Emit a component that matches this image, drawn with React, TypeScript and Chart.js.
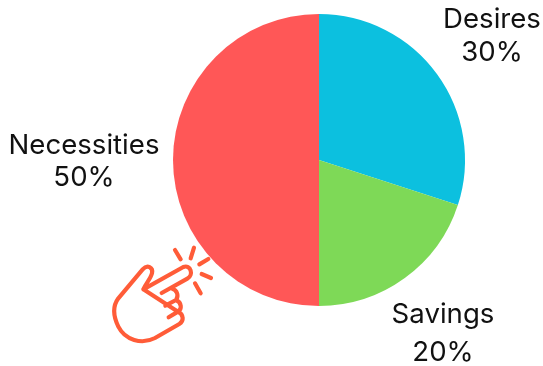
import React, { useEffect, useRef } from "react";
import { Chart, registerables } from "chart.js";

Chart.register(...registerables);

const categories = ["Desires", "Savings", "Necessities"];
const shares = [30, 20, 50];
const sliceColors = ["#0CC0DF", "#7ED957", "#FF5757"];

const WIDTH = 543;
const HEIGHT = 366;
const FONT = '400 27.6px Inter, "Noto Sans", sans-serif';

// Centre of each two-line caption: name baseline, then percentage baseline.
const captionLayout = [
  { x: 492, y1: 28, y2: 61 },
  { x: 443, y1: 323, y2: 361 },
  { x: 84, y1: 154, y2: 186 },
];

const captionsPlugin = {
  id: "captions",
  afterDraw(chart: Chart) {
    const { ctx } = chart;
    ctx.save();
    ctx.fillStyle = "#111111";
    ctx.font = FONT;
    ctx.textAlign = "center";
    ctx.textBaseline = "alphabetic";
    categories.forEach((name, i) => {
      const c = captionLayout[i];
      ctx.fillText(name, c.x, c.y1);
      ctx.fillText(`${shares[i]}%`, c.x, c.y2);
    });
    ctx.restore();
  },
};

// Outlined pointing hand with tap rays, drawn on a 3x grid for finer control.
const handPlugin = {
  id: "hand",
  afterDraw(chart: Chart) {
    const { ctx } = chart;
    ctx.save();
    ctx.translate(90, 230);
    ctx.scale(1 / 3, 1 / 3);
    ctx.strokeStyle = "#FF5C38";
    ctx.lineWidth = 12.5;
    ctx.lineCap = "round";
    ctx.lineJoin = "round";

    const hand = new Path2D(
      "M160 178 L280 111 C302 102 312 135 292 146 L215 189 " +
        "M244 175 C264 180 266 200 258 210 L226 227 " +
        "M258 210 C276 218 276 238 264 245 L236 262 " +
        "M264 245 C282 254 282 274 268 282 L195 324 " +
        "C155 345 105 330 85 290 C68 255 68 228 85 205 L158 118 " +
        "C172 102 190 112 186 130 C182 146 168 160 160 178 Z"
    );
    ctx.stroke(hand);

    const rays = new Path2D(
      "M255 60 L272 88 M312 53 L302 85 M355 87 L328 103 M335 132 L363 144 M315 160 L332 190"
    );
    ctx.stroke(rays);
    ctx.restore();
  },
};

export default function App() {
  const canvasRef = useRef<HTMLCanvasElement>(null);

  useEffect(() => {
    document.body.style.margin = "0";
    document.body.style.background = "#ffffff";
    const chart = new Chart(canvasRef.current!, {
      type: "pie",
      data: {
        labels: categories,
        datasets: [
          {
            data: shares,
            backgroundColor: sliceColors,
            borderWidth: 0,
          },
        ],
      },
      options: {
        animation: false,
        responsive: false,
        layout: { padding: { left: 173, right: 78, top: 14, bottom: 60 } },
        plugins: {
          legend: { display: false },
          tooltip: { enabled: false },
        },
      },
      plugins: [captionsPlugin, handPlugin],
    });
    return () => chart.destroy();
  }, []);

  return (
    <canvas
      ref={canvasRef}
      width={WIDTH}
      height={HEIGHT}
      style={{ display: "block", width: WIDTH, height: HEIGHT }}
    />
  );
}
